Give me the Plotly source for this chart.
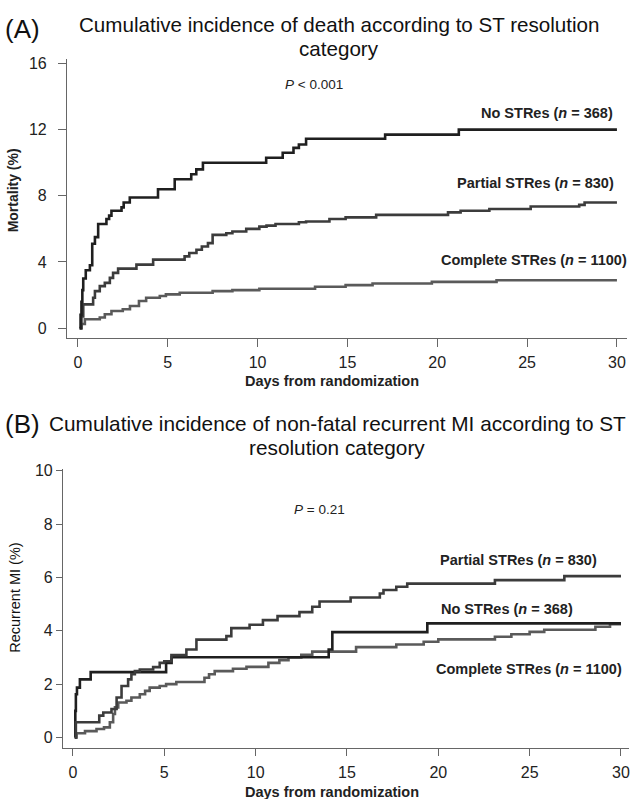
import plotly.graph_objects as go

W, H = 632, 799

# ---------------- Panel A: mortality ----------------
a_no_days = [0.1, 0.15, 0.2, 0.25, 0.3, 0.44, 0.67, 0.8, 0.95, 1.13, 1.59, 1.74, 1.87, 2.43, 2.55, 2.89, 4.46, 5.39, 6.31, 6.59, 6.96, 10.48, 11.4, 12.0, 12.3, 12.7, 17.1, 21.2, 30.0]
a_no_vals = [0.0, 0.8, 1.6, 2.3, 3.0, 3.5, 3.8, 5.1, 5.5, 6.3, 6.6, 6.8, 7.1, 7.3, 7.6, 7.9, 8.4, 9.0, 9.3, 9.6, 10.0, 10.3, 10.6, 10.9, 11.1, 11.45, 11.7, 12.0, 12.0]

a_partial_days = [0.1, 0.2, 0.3, 0.85, 0.95, 1.22, 1.5, 1.78, 1.96, 2.24, 3.26, 4.19, 5.94, 6.2, 6.6, 6.9, 7.24, 7.5, 8.26, 8.6, 9.37, 10.1, 10.5, 11.0, 12.3, 12.7, 14.0, 14.9, 16.6, 20.6, 21.3, 22.9, 25.2, 27.9, 28.2, 30.0]
a_partial_vals = [0.0, 0.7, 1.44, 1.84, 2.24, 2.54, 2.74, 3.04, 3.34, 3.6, 3.84, 4.14, 4.34, 4.54, 4.74, 4.94, 5.14, 5.64, 5.74, 5.84, 6.0, 6.14, 6.2, 6.3, 6.4, 6.45, 6.6, 6.7, 6.85, 7.0, 7.1, 7.2, 7.35, 7.45, 7.6, 7.6]

a_complete_days = [0.1, 0.2, 0.39, 1.22, 1.5, 1.87, 2.5, 2.9, 3.4, 3.8, 4.56, 4.9, 5.67, 7.5, 8.6, 10.1, 13.2, 14.9, 16.4, 19.7, 23.3, 30.0]
a_complete_vals = [0.0, 0.25, 0.54, 0.64, 0.84, 1.04, 1.14, 1.34, 1.64, 1.84, 1.94, 2.04, 2.14, 2.24, 2.3, 2.38, 2.5, 2.6, 2.7, 2.8, 2.9, 2.9]

# ---------------- Panel B: recurrent MI ----------------
b_no_days = [0.1, 0.13, 0.16, 0.22, 0.38, 0.97, 5.1, 5.4, 14.0, 14.2, 19.4, 30.0]
b_no_vals = [0.0, 1.0, 1.62, 1.87, 2.18, 2.45, 2.8, 3.01, 3.3, 3.95, 4.28, 4.28]

b_partial_days = [0.1, 0.16, 1.44, 1.66, 2.11, 2.39, 2.66, 3.02, 3.2, 3.39, 3.66, 4.39, 4.75, 5.0, 5.39, 6.21, 6.76, 8.4, 8.67, 9.67, 10.4, 11.2, 12.4, 13.1, 13.5, 15.2, 16.8, 17.0, 17.7, 18.3, 23.1, 26.9, 30.0]
b_partial_vals = [0.0, 0.57, 0.82, 0.94, 1.07, 1.5, 1.93, 2.18, 2.37, 2.49, 2.55, 2.64, 2.8, 2.86, 3.09, 3.3, 3.67, 3.8, 4.1, 4.23, 4.4, 4.55, 4.7, 4.9, 5.1, 5.25, 5.4, 5.53, 5.65, 5.77, 5.9, 6.05, 6.05]

b_complete_days = [0.1, 0.2, 0.66, 1.29, 1.7, 2.02, 2.2, 2.3, 2.48, 2.93, 3.2, 3.66, 3.95, 4.2, 4.75, 5.1, 5.66, 7.2, 7.45, 7.76, 8.76, 9.5, 10.7, 11.3, 11.8, 12.5, 13.1, 15.5, 17.7, 19.2, 20.0, 23.1, 24.0, 25.0, 25.8, 28.6, 29.4, 30.0]
b_complete_vals = [0.0, 0.16, 0.24, 0.32, 0.38, 0.57, 0.88, 1.13, 1.31, 1.38, 1.5, 1.62, 1.75, 1.87, 1.93, 2.0, 2.08, 2.24, 2.37, 2.49, 2.58, 2.65, 2.8, 2.9, 3.0, 3.1, 3.22, 3.39, 3.49, 3.59, 3.68, 3.78, 3.87, 3.96, 4.04, 4.15, 4.25, 4.25]

x_ticks = [0, 5, 10, 15, 20, 25, 30]
a_y_ticks = [0, 4, 8, 12, 16]
b_y_ticks = [0, 2, 4, 6, 8, 10]

C_NO = "#1f1f1f"
C_PARTIAL = "#3c3c3c"
C_COMPLETE = "#5a5a5a"
FONT = "Liberation Sans"


def px(x):
    return x / W


def py(y):
    return 1 - y / H


fig = go.Figure()

def add(xs, ys, color, xa, ya):
    fig.add_trace(go.Scatter(x=xs, y=ys, mode="lines", line=dict(color=color, width=2.6, shape="hv"),
                             xaxis=xa, yaxis=ya, showlegend=False, hoverinfo="skip"))

add(a_complete_days, a_complete_vals, C_COMPLETE, "x", "y")
add(a_partial_days, a_partial_vals, C_PARTIAL, "x", "y")
add(a_no_days, a_no_vals, C_NO, "x", "y")
add(b_complete_days, b_complete_vals, C_COMPLETE, "x2", "y2")
add(b_no_days, b_no_vals, C_NO, "x2", "y2")
add(b_partial_days, b_partial_vals, C_PARTIAL, "x2", "y2")


def axis_style(ticklen, standoff):
    return dict(showgrid=False, zeroline=False, showline=True, linecolor="#666666", linewidth=1,
                ticks="outside", ticklen=ticklen, tickcolor="#666666", tickwidth=1,
                ticklabelstandoff=standoff,
                tickfont=dict(family=FONT, size=16, color="#222222"))

fig.update_layout(
    width=W, height=H,
    margin=dict(l=0, r=0, t=0, b=0),
    paper_bgcolor="white", plot_bgcolor="white",
    xaxis=dict(domain=[px(67), px(628)], range=[-0.61, 30.56], tickvals=x_ticks, anchor="y", **axis_style(8, 2)),
    yaxis=dict(domain=[py(334), py(52)], range=[-0.6, 16.3], tickvals=a_y_ticks, anchor="x", **axis_style(8, 8)),
    xaxis2=dict(domain=[px(63), px(630)], range=[-0.55, 30.44], tickvals=x_ticks, anchor="y2", **axis_style(7, 2)),
    yaxis2=dict(domain=[py(748), py(466)], range=[-0.41, 10.07], tickvals=b_y_ticks, anchor="x2", **axis_style(6, 0)),
)

ann = []

def text(x, y, s, size, xanchor="center", bold=False, angle=0, color="#222222"):
    if bold:
        s = "<b>" + s + "</b>"
    ann.append(dict(x=px(x), y=py(y), xref="paper", yref="paper", text=s, showarrow=False,
                    xanchor=xanchor, yanchor="middle", textangle=angle,
                    font=dict(family=FONT, size=size, color=color)))

# Titles
text(3, 22, "(A)", 26, xanchor="left", color="#111111")
text(340, 18, "Cumulative incidence of death according to ST resolution", 20.6, color="#111111")
text(340, 42, "category", 20.6, color="#111111")
text(3, 421, "(B)", 26, xanchor="left", color="#111111")
text(338, 420, "Cumulative incidence of non-fatal recurrent MI according to ST", 20.8, color="#111111")
text(338, 444, "resolution category", 20.8, color="#111111")

# Axis titles
text(13, 185, "Mortality (%)", 14, bold=True, angle=-90)
text(333, 377, "Days from randomization", 14.5, bold=True)
text(15, 596, "Recurrent MI (%)", 14.5, angle=-90, color="#111111")
text(333, 792, "Days from randomization", 14.5, bold=True)

# Panel A labels
text(283, 78, "<i>P</i> < 0.001", 13.5, xanchor="left")
text(616, 107, "No STRes (<i>n</i> = 368)", 14.5, xanchor="right", bold=True)
text(617, 178, "Partial STRes (<i>n</i> = 830)", 14.5, xanchor="right", bold=True)
text(630, 255, "Complete STRes (<i>n</i> = 1100)", 14.5, xanchor="right", bold=True)

# Panel B labels
text(292, 507, "<i>P</i> = 0.21", 13.5, xanchor="left")
text(600, 558, "Partial STRes (<i>n</i> = 830)", 14.5, xanchor="right", bold=True)
text(576, 607, "No STRes (<i>n</i> = 368)", 14.5, xanchor="right", bold=True)
text(625, 668, "Complete STRes (<i>n</i> = 1100)", 14.5, xanchor="right", bold=True)

fig.update_layout(annotations=ann)
fig.write_html("out.html", config={"displayModeBar": False},
               post_script="document.body.style.margin='0';document.body.style.overflow='hidden';")
